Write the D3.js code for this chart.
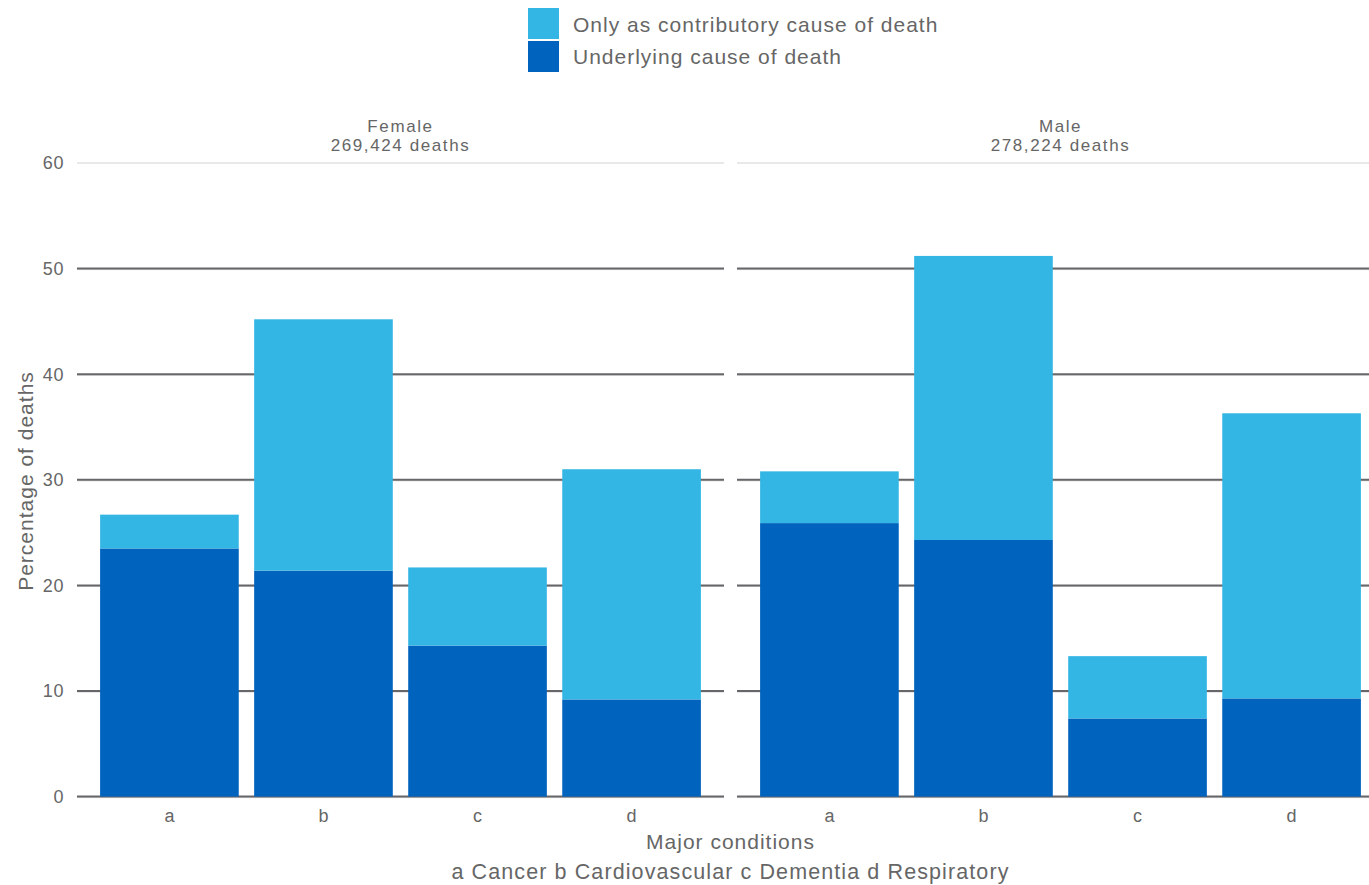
<!DOCTYPE html>
<html>
<head>
<meta charset="utf-8">
<script src="https://cdn.jsdelivr.net/npm/d3@7"></script>
<style>
  html, body { margin: 0; padding: 0; background: #ffffff; }
  svg { display: block; font-family: "Liberation Sans", Arial, sans-serif; }
</style>
</head>
<body>
<svg id="chart" width="1369" height="885"></svg>
<script>
// ---- data ----
const categories = ["a", "b", "c", "d"];
const panels = ["Female", "Male"];
const panelDeaths = ["269,424 deaths", "278,224 deaths"];
const femaleUnderlying = [23.5, 21.4, 14.3, 9.2];
const femaleContributory = [3.2, 23.8, 7.4, 21.8];
const maleUnderlying = [25.9, 24.3, 7.4, 9.3];
const maleContributory = [4.9, 26.9, 5.9, 27.0];
const seriesNames = ["Only as contributory cause of death", "Underlying cause of death"];
const yTicks = [0, 10, 20, 30, 40, 50, 60];
const captionText = "a Cancer b Cardiovascular c Dementia d Respiratory";
const xTitle = "Major conditions";
const yTitle = "Percentage of deaths";

// ---- layout ----
const svg = d3.select("#chart");
const textColor = "#666666";
const colUnder = "#0063be";
const colContrib = "#34b6e4";
const panelWidth = 647;
const panelX = [77, 737];
const y = d3.scaleLinear().domain([0, 60]).range([796.6, 163]);

const panelData = [
  categories.map((c, i) => ({ cat: c, under: femaleUnderlying[i], contrib: femaleContributory[i] })),
  categories.map((c, i) => ({ cat: c, under: maleUnderlying[i], contrib: maleContributory[i] }))
];
const stack = d3.stack().keys(["under", "contrib"]);
const colorOf = { under: colUnder, contrib: colContrib };

// y tick labels
svg.append("g").selectAll("text").data(yTicks).join("text")
  .attr("x", 64).attr("y", d => y(d)).attr("dy", "0.35em")
  .attr("text-anchor", "end").attr("font-size", 18).attr("letter-spacing", 0.6)
  .attr("fill", textColor).text(d => d);

panelData.forEach((rows, p) => {
  const x0 = panelX[p];
  const x = d3.scaleBand().domain(categories).range([x0, x0 + panelWidth])
    .paddingInner(0.1).paddingOuter(0.15);
  const g = svg.append("g");

  // gridlines
  g.selectAll("line.lightgrid").data(yTicks).join("line")
    .attr("class", "lightgrid")
    .attr("x1", x0).attr("x2", x0 + panelWidth)
    .attr("y1", d => y(d) + (d === 60 ? 0 : 1)).attr("y2", d => y(d) + (d === 60 ? 0 : 1))
    .attr("stroke", "#d2d2d2").attr("stroke-width", 1);
  g.selectAll("line.darkgrid").data(yTicks.filter(d => d < 60)).join("line")
    .attr("class", "darkgrid")
    .attr("x1", x0).attr("x2", x0 + panelWidth)
    .attr("y1", d => y(d)).attr("y2", d => y(d))
    .attr("stroke", "#67676b").attr("stroke-width", 2);

  // bars
  const stacked = stack(rows);
  g.selectAll("g.layer").data(stacked).join("g")
    .attr("class", "layer")
    .attr("fill", d => colorOf[d.key])
    .selectAll("rect").data(d => d).join("rect")
    .attr("x", d => x(d.data.cat))
    .attr("width", x.bandwidth())
    .attr("y", d => y(d[1]))
    .attr("height", d => y(d[0]) - y(d[1]));

  // x tick labels
  g.selectAll("text.xt").data(categories).join("text")
    .attr("class", "xt")
    .attr("x", d => x(d) + x.bandwidth() / 2).attr("y", 822)
    .attr("text-anchor", "middle").attr("font-size", 18)
    .attr("fill", textColor).text(d => d);

  // facet labels
  const cx = x0 + panelWidth / 2;
  g.append("text").attr("x", cx).attr("y", 132).attr("text-anchor", "middle")
    .attr("font-size", 17).attr("letter-spacing", 1.6).attr("fill", textColor).text(panels[p]);
  g.append("text").attr("x", cx).attr("y", 151).attr("text-anchor", "middle")
    .attr("font-size", 17).attr("letter-spacing", 1.6).attr("fill", textColor).text(panelDeaths[p]);
});

// axis titles
const plotCenter = (panelX[0] + panelX[1] + panelWidth) / 2;
svg.append("text").attr("x", plotCenter).attr("y", 849).attr("text-anchor", "middle")
  .attr("font-size", 21).attr("letter-spacing", 1).attr("fill", textColor).text(xTitle);
svg.append("text").attr("x", plotCenter).attr("y", 879).attr("text-anchor", "middle")
  .attr("font-size", 21.5).attr("letter-spacing", 1.1).attr("fill", textColor).text(captionText);
svg.append("text").attr("transform", "translate(33,481) rotate(-90)")
  .attr("text-anchor", "middle").attr("font-size", 21).attr("letter-spacing", 1)
  .attr("fill", textColor).text(yTitle);

// legend
const legend = svg.append("g");
const legendItems = [
  { name: seriesNames[0], color: colContrib },
  { name: seriesNames[1], color: colUnder }
];
legend.selectAll("rect").data(legendItems).join("rect")
  .attr("x", 528).attr("y", (d, i) => 8 + i * 33)
  .attr("width", 31).attr("height", 31).attr("fill", d => d.color);
legend.selectAll("text").data(legendItems).join("text")
  .attr("x", 573).attr("y", (d, i) => 31.5 + i * 32.5)
  .attr("font-size", 21).attr("letter-spacing", 1)
  .attr("fill", textColor).text(d => d.name);
</script>
</body>
</html>
